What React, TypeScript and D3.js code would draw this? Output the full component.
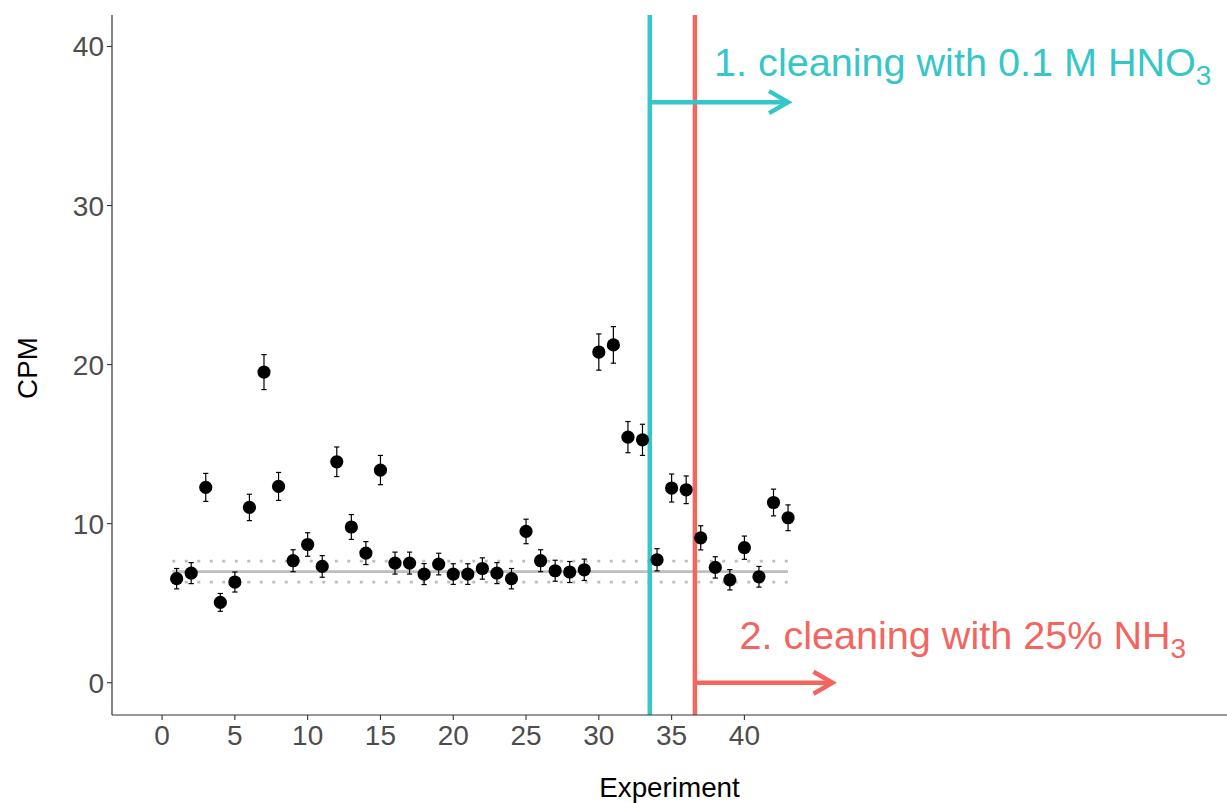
import React from 'react';
import * as d3 from 'd3';

const experiments = [1,2,3,4,5,6,7,8,9,10,11,12,13,14,15,16,17,18,19,20,21,22,23,24,25,26,27,28,29,30,31,32,33,34,35,36,37,38,39,40,41,42,43];
const cpm = [6.54,6.89,12.28,5.05,6.33,11.02,19.53,12.34,7.67,8.69,7.31,13.89,9.79,8.15,13.37,7.52,7.52,6.83,7.46,6.83,6.83,7.18,6.89,6.54,9.51,7.67,7.04,6.96,7.1,20.79,21.24,15.44,15.27,7.73,12.24,12.13,9.11,7.25,6.47,8.49,6.66,11.33,10.37];
const cpmErr = [0.64,0.66,0.88,0.56,0.63,0.83,1.1,0.88,0.69,0.74,0.68,0.93,0.78,0.72,0.92,0.69,0.69,0.66,0.68,0.65,0.65,0.67,0.66,0.64,0.77,0.69,0.66,0.66,0.67,1.14,1.15,0.98,0.98,0.7,0.88,0.87,0.76,0.67,0.64,0.73,0.65,0.84,0.81];

const xTicks = [0,5,10,15,20,25,30,35,40];
const yTicks = [0,10,20,30,40];

const baselineMean = 6.98;
const baselineBand = [6.32, 7.65];
const baselineRange = [0.7, 43];

const cleaningX = [33.5, 36.6];
const cleaningColors = ['#35C6C8', '#F3655F'];
const arrowY = [36.5, 0];
const arrowEnd = [43.0, 46.05];
const labelX = [55, 55];
const labelY = [39, 3];
const labelMain = ['1. cleaning with 0.1 M HNO', '2. cleaning with 25% NH'];
const labelSub = ['3', '3'];

const W = 1227, H = 803;
const L = 112, R = 1227, T = 15, B = 715;

export default function App() {
  const x = d3.scaleLinear().domain([-3.44, 73.15]).range([L, R]);
  const y = d3.scaleLinear().domain([-2.03, 41.98]).range([B, T]);
  const font = "'Liberation Sans', Arial, sans-serif";

  const arrow = (i: number) => {
    const x1 = x(cleaningX[i]), x2 = x(arrowEnd[i]), yy = y(arrowY[i]);
    return (
      <g key={'a' + i} stroke={cleaningColors[i]} strokeWidth={4.5} fill="none" strokeLinecap="butt">
        <line x1={x1} x2={x2} y1={yy} y2={yy} />
        <polyline points={`${x2 - 19},${yy - 11} ${x2},${yy} ${x2 - 19},${yy + 11}`} strokeLinejoin="miter" />
      </g>
    );
  };

  return (
    <svg width={W} height={H} style={{ position: 'absolute', left: 0, top: 0, background: '#fff' }} fontFamily={font}>
      <rect x={0} y={0} width={W} height={H} fill="#fff" />
      <line x1={x(baselineRange[0])} x2={x(baselineRange[1])} y1={y(baselineMean)} y2={y(baselineMean)} stroke="#BEBEBE" strokeWidth={2.8} />
      {baselineBand.map((v, i) => (
        <line key={'b' + i} x1={x(baselineRange[0])} x2={x(baselineRange[1])} y1={y(v)} y2={y(v)} stroke="#BEBEBE" strokeWidth={2.8} strokeDasharray="3 9.5" />
      ))}
      {cleaningX.map((v, i) => (
        <line key={'c' + i} x1={x(v)} x2={x(v)} y1={T} y2={B} stroke={cleaningColors[i]} strokeWidth={4.5} />
      ))}
      {arrow(0)}
      {arrow(1)}
      {experiments.map((e, i) => {
        const cx = x(e), lo = y(cpm[i] - cpmErr[i]), hi = y(cpm[i] + cpmErr[i]);
        return (
          <g key={'p' + i}>
            <line x1={cx} x2={cx} y1={lo} y2={hi} stroke="#000" strokeWidth={1.2} />
            <line x1={cx - 2.6} x2={cx + 2.6} y1={lo} y2={lo} stroke="#000" strokeWidth={1.2} />
            <line x1={cx - 2.6} x2={cx + 2.6} y1={hi} y2={hi} stroke="#000" strokeWidth={1.2} />
            <circle cx={cx} cy={y(cpm[i])} r={6.6} fill="#000" />
          </g>
        );
      })}
      {labelMain.map((t, i) => (
        <text key={'t' + i} x={x(labelX[i])} y={y(labelY[i]) + 14} textAnchor="middle" fontSize={39.6} fill={cleaningColors[i]}>
          {t}
          <tspan fontSize={28} dy={9}>{labelSub[i]}</tspan>
        </text>
      ))}
      <line x1={L} x2={R} y1={B} y2={B} stroke="#333" strokeWidth={1.2} />
      <line x1={L} x2={L} y1={T} y2={B} stroke="#333" strokeWidth={1.2} />
      {xTicks.map(t => (
        <g key={'xt' + t}>
          <line x1={x(t)} x2={x(t)} y1={B} y2={B + 5} stroke="#333" strokeWidth={1.1} />
          <text x={x(t)} y={B + 30} textAnchor="middle" fontSize={28} fill="#4D4D4D">{t}</text>
        </g>
      ))}
      {yTicks.map(t => (
        <g key={'yt' + t}>
          <line x1={L - 5} x2={L} y1={y(t)} y2={y(t)} stroke="#333" strokeWidth={1.1} />
          <text x={L - 8} y={y(t) + 10} textAnchor="end" fontSize={28} fill="#4D4D4D">{t}</text>
        </g>
      ))}
      <text x={(L + R) / 2} y={797} textAnchor="middle" fontSize={27.8} fill="#000">Experiment</text>
      <text transform={`translate(37,${(T + B) / 2 + 3}) rotate(-90)`} textAnchor="middle" fontSize={27.8} fill="#000">CPM</text>
    </svg>
  );
}
